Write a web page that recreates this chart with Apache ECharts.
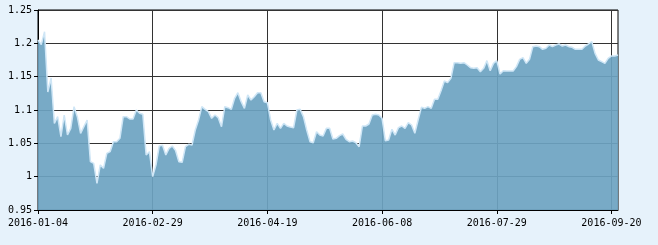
<!DOCTYPE html>
<html>
<head>
<meta charset="utf-8">
<script src="https://cdn.jsdelivr.net/npm/echarts@6/dist/echarts.min.js"></script>
<style>
html,body{margin:0;padding:0;background:#e6f2fb;}
#c{width:658px;height:245px;}
</style>
</head>
<body>
<div id="c"></div>
<script>
// trading days per month (2016)
const monthDays = {
  '01': [4,5,6,7,8,11,12,13,14,15,18,19,20,21,22,25,26,27,28,29],
  '02': [1,2,3,4,5,15,16,17,18,19,22,23,24,25,26,29],
  '03': [1,2,3,4,7,8,9,10,11,14,15,16,17,18,21,22,23,24,25,28,29,30,31],
  '04': [1,5,6,7,8,11,12,13,14,15,18,19,20,21,22,25,26,27,28,29],
  '05': [3,4,5,6,9,10,11,12,13,16,17,18,19,20,23,24,25,26,27,30,31],
  '06': [1,2,3,6,7,8,13,14,15,16,17,20,21,22,23,24,27,28,29,30],
  '07': [1,4,5,6,7,8,11,12,13,14,15,18,19,20,21,22,25,26,27,28,29],
  '08': [1,2,3,4,5,8,9,10,11,12,15,16,17,18,19,22,23,24,25,26,29,30,31],
  '09': [1,2,5,6,7,8,9,12,13,14,19,20,21,22]
};
const categories = [];
Object.keys(monthDays).forEach(m => monthDays[m].forEach(d => categories.push('2016-' + m + '-' + String(d).padStart(2,'0'))));

const values = [
1.205,1.198,1.2175,1.127,1.148,1.08,1.09,1.06,1.0925,1.0625,
1.0725,1.105,1.09,1.065,1.075,1.085,1.0225,1.02,0.99,1.0175,
1.0125,1.035,1.0375,1.0525,1.0525,1.0575,1.09,1.09,1.0865,1.0865,
1.1,1.095,1.0935,1.0325,1.0375,1.0,1.0175,1.046,1.047,1.0325,
1.0425,1.046,1.039,1.0225,1.0215,1.045,1.0485,1.0475,1.07,1.085,
1.105,1.101,1.0975,1.0875,1.0925,1.0885,1.075,1.105,1.1035,1.101,
1.1175,1.126,1.1125,1.1025,1.1225,1.115,1.12,1.126,1.126,1.1125,
1.111,1.085,1.07,1.08,1.0725,1.08,1.076,1.0745,1.0735,1.1,
1.101,1.09,1.07,1.0525,1.051,1.0675,1.0625,1.061,1.0725,1.0725,
1.0565,1.0575,1.0615,1.064,1.056,1.0525,1.0535,1.051,1.045,1.076,
1.076,1.079,1.0925,1.0935,1.0925,1.0875,1.054,1.055,1.071,1.0625,
1.0735,1.076,1.0725,1.081,1.0775,1.065,1.085,1.104,1.1025,1.105,
1.1025,1.116,1.116,1.129,1.1435,1.141,1.1475,1.171,1.171,1.17,
1.171,1.1675,1.1635,1.1625,1.1635,1.1575,1.1625,1.174,1.159,1.17,
1.174,1.154,1.159,1.1585,1.1585,1.1585,1.165,1.176,1.1785,1.17,
1.176,1.195,1.196,1.195,1.191,1.1925,1.1975,1.195,1.1975,1.199,
1.196,1.1975,1.195,1.194,1.191,1.191,1.191,1.196,1.199,1.2025,
1.185,1.175,1.1725,1.17,1.1775,1.181,1.181,1.1825
];

const yMin = 0.95, yMax = 1.25, yStep = 0.05;

const chart = echarts.init(document.getElementById('c'), null, {renderer: 'canvas'});
const font = {fontFamily: 'DejaVu Sans Mono', fontSize: 10, color: '#000'};
chart.setOption({
  animation: false,
  backgroundColor: '#e6f2fb',
  grid: {left: 38, right: 40, top: 10, bottom: 35, show: true, backgroundColor: '#ffffff', borderColor: '#000', borderWidth: 1},
  xAxis: {
    type: 'category', data: categories, boundaryGap: false,
    axisLine: {lineStyle: {color: '#000', width: 1}},
    axisTick: {show: true, interval: 34, length: 4, lineStyle: {color: '#000'}},
    axisLabel: Object.assign({interval: 34, margin: 8}, font),
    splitLine: {show: true, interval: 34, lineStyle: {color: '#333', width: 1}}
  },
  yAxis: {
    type: 'value', min: yMin, max: yMax, interval: yStep,
    axisLine: {show: true, lineStyle: {color: '#000', width: 1}},
    axisTick: {show: true, length: 4, lineStyle: {color: '#000'}},
    axisLabel: Object.assign({margin: 6}, font),
    splitLine: {show: true, lineStyle: {color: '#333', width: 1}}
  },
  series: [{
    type: 'line', data: values, symbol: 'none',
    lineStyle: {color: '#cfe6f6', width: 1.5},
    areaStyle: {color: 'rgb(108,163,193)', opacity: 0.92}
  }]
});
</script>
</body>
</html>
